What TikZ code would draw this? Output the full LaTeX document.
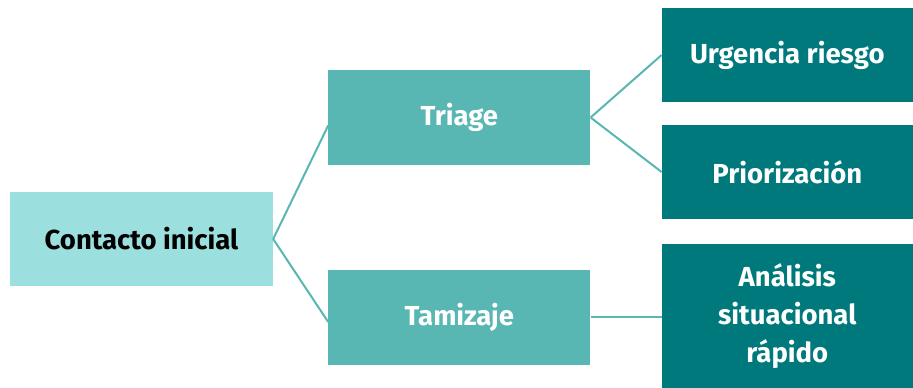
\documentclass[tikz,border=0pt]{standalone}
\usepackage{fontspec}
\setmainfont{Fira Sans}
\usepackage{tikz}
\usetikzlibrary{positioning, calc}
\usepackage{xcolor}
\definecolor{startcyan}{RGB}{155,223,223}
\definecolor{midteal}{RGB}{88,182,179}
\definecolor{darkteal}{RGB}{0,121,124}

\begin{document}
\begin{tikzpicture}[
        box/.style={minimum width=262pt, minimum height=94pt, inner sep=0pt, font=\fontsize{27.5}{38}\selectfont\bfseries, align=center},
        level1/.style={box, fill=midteal, text=white},
        level2/.style={box, fill=darkteal, text=white, minimum width=251pt},
        link/.style={draw=midteal, line width=2pt}
    ]
        \useasboundingbox (0,0) rectangle (913pt,-388pt);

        \node[box, fill=startcyan, text=black, minimum width=263pt] (contacto) at (141.5pt,-239pt) {Contacto inicial};
        \node[level1, minimum height=95pt, right=55pt of contacto, yshift=121.5pt] (triage) {Triage};
        \node[level1, minimum height=95pt, right=55pt of contacto, yshift=-78pt] (tamizaje) {Tamizaje};
        \node[level2, right=71pt of triage, yshift=62.5pt] (urgencia) {Urgencia riesgo};
        \node[level2, right=71pt of triage, yshift=-54.5pt] (priorizacion) {Priorización};
        \node[level2, minimum height=144pt, right=71pt of tamizaje, yshift=1pt] (analisis) {Análisis\\situacional\\rápido};

        \draw[link] (contacto.east) -- ([yshift=-8pt]triage.west);
        \draw[link] (contacto.east) -- ([yshift=-5pt]tamizaje.west);
        \draw[link] (triage.east) -- (urgencia.west);
        \draw[link] (triage.east) -- (priorizacion.west);
        \draw[link] (tamizaje.east) -- (tamizaje.east -| analisis.west);
    \end{tikzpicture}
\end{document}
